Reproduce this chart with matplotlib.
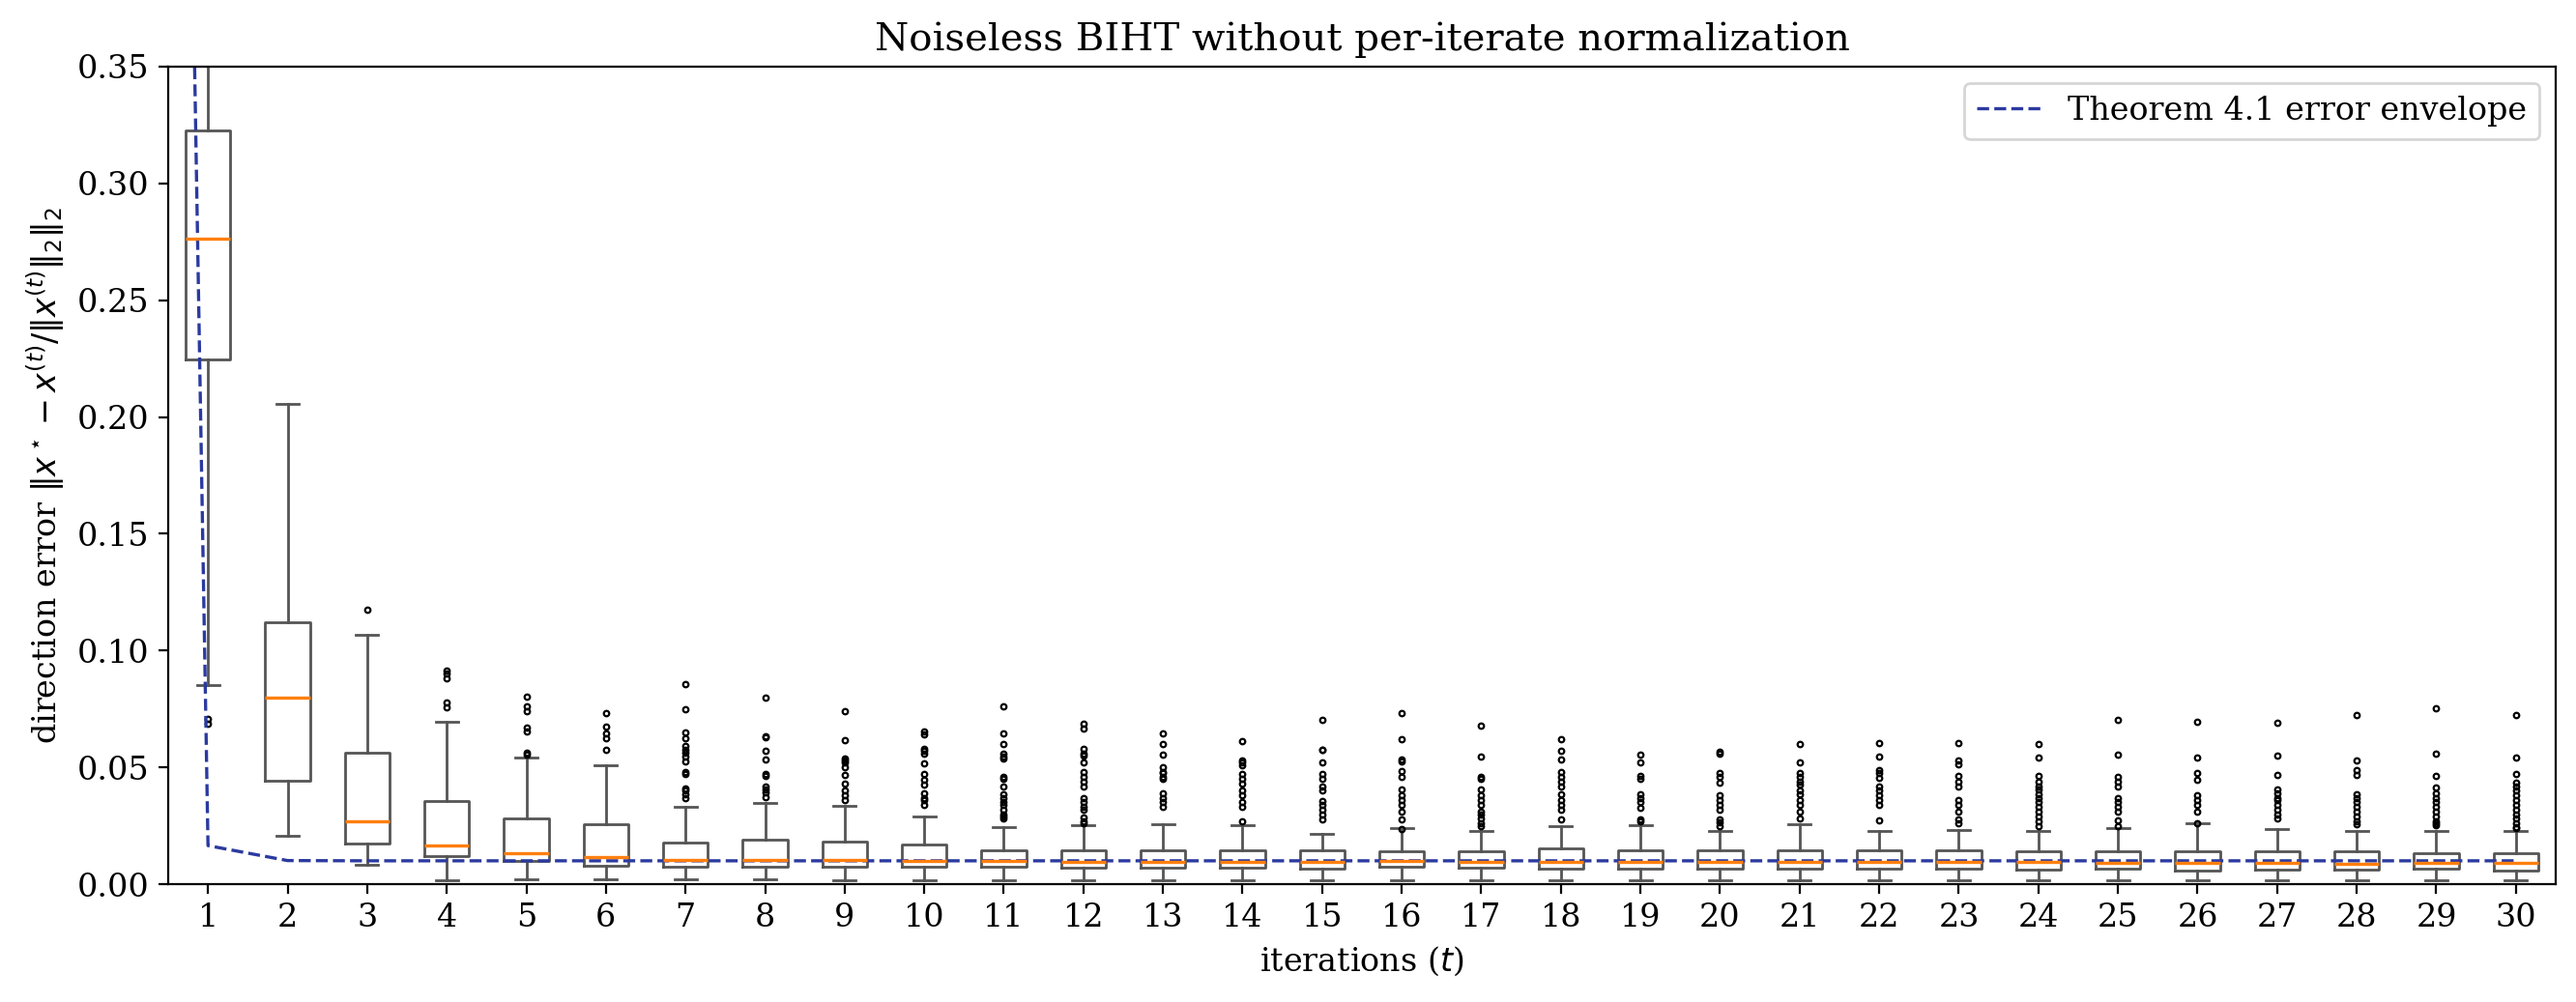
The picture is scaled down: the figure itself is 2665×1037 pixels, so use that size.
import numpy as np
import matplotlib
matplotlib.use("Agg")
import matplotlib.pyplot as plt

plt.rcParams['font.family'] = 'serif'
plt.rcParams['font.size'] = 12

# iterations 1..30, box statistics
iters = list(range(1, 31))
q1 = [0.2247, 0.0441, 0.0175, 0.0121, 0.0098, 0.0080, 0.0076, 0.0076, 0.0074, 0.0074,
      0.0074, 0.0069, 0.0069, 0.0069, 0.0065, 0.0074, 0.0069, 0.0065, 0.0065, 0.0065,
      0.0065, 0.0065, 0.0065, 0.0062, 0.0065, 0.0058, 0.0062, 0.0062, 0.0065, 0.0058]
med = [0.2764, 0.0798, 0.0269, 0.0165, 0.0132, 0.0116, 0.0103, 0.0103, 0.0102, 0.0098,
       0.0099, 0.0094, 0.0094, 0.0094, 0.0094, 0.0098, 0.0094, 0.0094, 0.0094, 0.0094,
       0.0094, 0.0094, 0.0094, 0.0094, 0.0090, 0.0090, 0.0090, 0.0086, 0.0090, 0.0090]
q3 = [0.3227, 0.1120, 0.0563, 0.0358, 0.0280, 0.0255, 0.0180, 0.0189, 0.0182, 0.0170,
      0.0145, 0.0145, 0.0145, 0.0145, 0.0145, 0.0140, 0.0140, 0.0152, 0.0145, 0.0145,
      0.0145, 0.0145, 0.0145, 0.0140, 0.0140, 0.0140, 0.0140, 0.0140, 0.0132, 0.0132]
whislo = [0.0854, 0.0208, 0.0081, 0.0018, 0.0022, 0.0022, 0.0022, 0.0022, 0.0018, 0.0018,
          0.0018, 0.0018, 0.0018, 0.0018, 0.0018, 0.0018, 0.0018, 0.0018, 0.0018, 0.0018,
          0.0018, 0.0018, 0.0018, 0.0018, 0.0018, 0.0018, 0.0018, 0.0018, 0.0018, 0.0018]
whishi = [0.5000, 0.2056, 0.1067, 0.0697, 0.0544, 0.0511, 0.0332, 0.0346, 0.0335, 0.0290,
          0.0244, 0.0252, 0.0257, 0.0252, 0.0216, 0.0240, 0.0228, 0.0249, 0.0253, 0.0228,
          0.0257, 0.0228, 0.0232, 0.0228, 0.0240, 0.0260, 0.0236, 0.0228, 0.0228, 0.0228]
fliers = [
    [0.0707, 0.0686],
    [],
    [0.1174],
    [0.0916, 0.0900, 0.0883, 0.0778, 0.0759],
    [0.0803, 0.0762, 0.0741, 0.0672, 0.0654, 0.0562, 0.0555],
    [0.0731, 0.0675, 0.0645, 0.0624, 0.0576],
    [0.0855, 0.0748, 0.0651, 0.0624, 0.0590, 0.0576, 0.0562, 0.0548, 0.0525, 0.0480,
     0.0472, 0.0410, 0.0400, 0.0385, 0.0370],
    [0.0798, 0.0635, 0.0628, 0.0569, 0.0534, 0.0470, 0.0463, 0.0420, 0.0407, 0.0393, 0.0373],
    [0.0740, 0.0617, 0.0538, 0.0530, 0.0520, 0.0500, 0.0467, 0.0430, 0.0400, 0.0380, 0.0360],
    [0.0655, 0.0640, 0.0580, 0.0570, 0.0560, 0.0517, 0.0470, 0.0447, 0.0426, 0.0390,
     0.0370, 0.0360, 0.0340],
    [0.0760, 0.0645, 0.0600, 0.0560, 0.0545, 0.0540, 0.0460, 0.0450, 0.0420, 0.0385,
     0.0370, 0.0350, 0.0340, 0.0320, 0.0300, 0.0290, 0.0280],
    [0.0687, 0.0666, 0.0580, 0.0560, 0.0550, 0.0520, 0.0480, 0.0460, 0.0440, 0.0420,
     0.0370, 0.0350, 0.0330, 0.0320, 0.0285, 0.0270, 0.0260],
    [0.0645, 0.0600, 0.0555, 0.0500, 0.0480, 0.0475, 0.0460, 0.0450, 0.0390, 0.0370,
     0.0350, 0.0330],
    [0.0612, 0.0530, 0.0520, 0.0510, 0.0470, 0.0450, 0.0430, 0.0400, 0.0380, 0.0350,
     0.0330, 0.0269],
    [0.0703, 0.0575, 0.0574, 0.0520, 0.0470, 0.0450, 0.0420, 0.0400, 0.0355, 0.0340,
     0.0320, 0.0297, 0.0278],
    [0.0732, 0.0620, 0.0535, 0.0525, 0.0484, 0.0460, 0.0405, 0.0380, 0.0360, 0.0340,
     0.0310, 0.0278, 0.0236],
    [0.0680, 0.0546, 0.0460, 0.0450, 0.0405, 0.0380, 0.0360, 0.0340, 0.0310, 0.0300,
     0.0280, 0.0260, 0.0248],
    [0.0620, 0.0570, 0.0535, 0.0480, 0.0460, 0.0440, 0.0420, 0.0385, 0.0360, 0.0340,
     0.0320, 0.0278],
    [0.0553, 0.0520, 0.0463, 0.0450, 0.0385, 0.0370, 0.0350, 0.0326, 0.0278, 0.0270],
    [0.0567, 0.0560, 0.0476, 0.0460, 0.0435, 0.0380, 0.0360, 0.0340, 0.0320, 0.0278,
     0.0265, 0.0250],
    [0.0600, 0.0520, 0.0476, 0.0460, 0.0440, 0.0426, 0.0400, 0.0385, 0.0360, 0.0340,
     0.0310, 0.0280],
    [0.0604, 0.0546, 0.0490, 0.0476, 0.0455, 0.0420, 0.0400, 0.0380, 0.0360, 0.0340, 0.0273],
    [0.0604, 0.0530, 0.0512, 0.0463, 0.0440, 0.0418, 0.0360, 0.0340, 0.0310, 0.0278, 0.0260],
    [0.0600, 0.0543, 0.0463, 0.0440, 0.0418, 0.0405, 0.0385, 0.0370, 0.0350, 0.0330,
     0.0310, 0.0290, 0.0270, 0.0248],
    [0.0703, 0.0555, 0.0460, 0.0440, 0.0418, 0.0370, 0.0350, 0.0330, 0.0310, 0.0273, 0.0250],
    [0.0695, 0.0543, 0.0476, 0.0446, 0.0380, 0.0360, 0.0340, 0.0310, 0.0260],
    [0.0690, 0.0550, 0.0467, 0.0405, 0.0390, 0.0370, 0.0360, 0.0340, 0.0320, 0.0300, 0.0280],
    [0.0724, 0.0530, 0.0490, 0.0467, 0.0385, 0.0370, 0.0350, 0.0330, 0.0310, 0.0290,
     0.0270, 0.0257],
    [0.0753, 0.0558, 0.0463, 0.0414, 0.0390, 0.0370, 0.0350, 0.0330, 0.0310, 0.0290,
     0.0270, 0.0260, 0.0253],
    [0.0724, 0.0543, 0.0470, 0.0435, 0.0420, 0.0400, 0.0380, 0.0360, 0.0340, 0.0320,
     0.0300, 0.0280, 0.0260, 0.0245, 0.0240],
]

# Theorem 4.1 envelope, t = 0..30
env_t = list(range(0, 31))
env_val = [2.0, 0.0165, 0.0101, 0.0100, 0.0100, 0.0100, 0.0100, 0.0100, 0.0100, 0.0100,
           0.0100, 0.0100, 0.0100, 0.0100, 0.0100, 0.0100, 0.0100, 0.0100, 0.0100, 0.0100,
           0.0100, 0.0100, 0.0100, 0.0100, 0.0100, 0.0100, 0.0100, 0.0100, 0.0100, 0.0100,
           0.0100]

stats = []
for i in range(len(iters)):
    stats.append(dict(med=med[i], q1=q1[i], q3=q3[i], whislo=whislo[i],
                      whishi=whishi[i], fliers=fliers[i]))

fig = plt.figure(figsize=(13.325, 5.185), dpi=200)
ax = fig.add_axes([0.0653, 0.1176, 0.9268, 0.8159])

gray = '#555555'
ax.bxp(stats, positions=iters, widths=0.56,
       boxprops=dict(color=gray, lw=1.0),
       whiskerprops=dict(color=gray, lw=1.0),
       capprops=dict(color=gray, lw=1.0),
       medianprops=dict(color='#ff7f0e', lw=1.2),
       flierprops=dict(marker='o', markersize=2.0, markerfacecolor='none',
                       markeredgecolor='black', markeredgewidth=0.8))

ax.plot(env_t, env_val, '--', color='#2b3a9f', lw=1.2, label='Theorem 4.1 error envelope')

ax.set_xlim(0.5, 30.5)
ax.set_ylim(0, 0.35)
ax.set_xticks(iters)
ax.set_xticklabels([str(t) for t in iters])
ax.set_yticks(np.arange(0, 0.351, 0.05))
ax.yaxis.set_major_formatter(matplotlib.ticker.FormatStrFormatter('%.2f'))

ax.set_title('Noiseless BIHT without per-iterate normalization', fontsize=14.5)
ax.set_xlabel(r'iterations ($t$)')
ax.set_ylabel(r'direction error $\|x^\star - x^{(t)}/\|x^{(t)}\|_2\|_2$')
ax.legend(loc='upper right')

fig.savefig('out.png', dpi=200)
